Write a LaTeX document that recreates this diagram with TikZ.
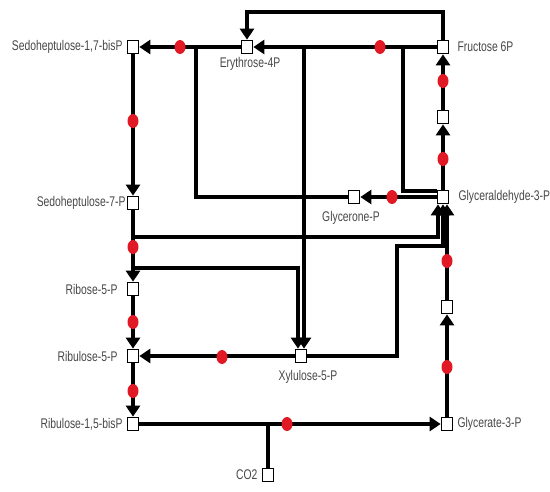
\documentclass[tikz,border=0pt]{standalone}
\usepackage{fontspec}
\setmainfont{Liberation Sans}[FakeStretch=0.74]
\usepackage{tikz}
\usetikzlibrary{arrows.meta,positioning}
\definecolor{dotred}{rgb}{0.88,0.1,0.14}
\definecolor{labgray}{rgb}{0.28,0.28,0.28}

\begin{document}
\begin{tikzpicture}[x=1pt,y=-1pt,
  met/.style={draw,fill=white,line width=1.7pt,minimum width=11pt,minimum height=13pt,inner sep=0pt},
  lab/.style={font=\fontsize{14}{15}\selectfont,text=labgray,inner sep=1pt},
  rxn/.style={line width=\medline},
  rarr/.style={line width=\medline,-{Triangle[width=14pt,length=11pt]}}]

\useasboundingbox (0,0) rectangle (550,491);

\def\medline{3.6pt}
\def\dotw{5.5}
\def\doth{7}

% metabolites
\node[met] (s17) at (133,47) {};
\node[met] (e4p) at (247,47) {};
\node[met] (f6p) at (443,47) {};
\node[met] (fbp) at (443,117) {};
\node[met] (gap) at (443,197) {};
\node[met] (dhap) at (354,197) {};
\node[met] (s7p) at (133,203) {};
\node[met] (r5p) at (133,289) {};
\node[met] (ru5p) at (133,356) {};
\node[met] (x5p) at (301,356) {};
\node[met] (rubp) at (133,424) {};
\node[met] (g3p) at (447,424) {};
\node[met] (bpg) at (447,307) {};
\node[met] (co2) at (268,475) {};

\node[lab,left=3pt of s17] (s17l) {Sedoheptulose-1,7-bisP};
\node[lab,below=2pt of e4p,xshift=3pt] (e4pl) {Erythrose-4P};
\node[lab,right=7pt of f6p] (f6pl) {Fructose 6P};
\node[lab,right=8pt of gap] (gapl) {Glyceraldehyde-3-P};
\node[lab,below=6pt of dhap,xshift=-3pt] (dhapl) {Glycerone-P};
\node[lab,left=0pt of s7p] (s7pl) {Sedoheptulose-7-P};
\node[lab,left=8pt of r5p] (r5pl) {Ribose-5-P};
\node[lab,left=8pt of ru5p] (ru5pl) {Ribulose-5-P};
\node[lab,below=6pt of x5p,xshift=7pt] (x5pl) {Xylulose-5-P};
\node[lab,left=3pt of rubp] (rubpl) {Ribulose-1,5-bisP};
\node[lab,right=3pt of g3p] (g3pl) {Glycerate-3-P};
\node[lab,left=3pt of co2] (co2l) {CO2};

% branch points
\coordinate (top) at (345,12);
\coordinate (j1) at (196,47);
\coordinate (j2) at (304,47);
\coordinate (j3) at (403,47);
\coordinate (j4) at (133,237);
\coordinate (j5) at (133,268);
\coordinate (j6) at (397,246);
\coordinate (j7) at (268,424);

% reactions
\draw[rarr] (f6p.north) |- (top) -| (e4p.north);
\draw[rarr] (f6p) -- (e4p);
\draw[rarr] (e4p) -- (s17);
\draw[rxn] (j1) |- (dhap);
\draw[rarr] (j2) -- ([xshift=3pt]x5p.north);
\draw[rxn] (j3) |- ([yshift=6pt]gap.west);
\draw[rarr] (gap) -- (dhap);
\draw[rarr] (s17) -- (s7p);
\draw[rarr] (s7p) -- (r5p);
\draw[rarr] (j4) -| ([xshift=-5pt]gap.south);
\draw[rarr] (j5) -| ([xshift=-3pt]x5p.north);
\draw[rarr] (r5p) -- (ru5p);
\draw[rarr] (ru5p) -- (rubp);
\draw[rarr] (x5p) -- (ru5p);
\draw[rarr] (x5p) -| (j6) -| (gap.south);
\draw[rarr] (rubp) -- (g3p);
\draw[rxn] (co2) -- (j7);
\draw[rarr] (g3p) -- (bpg);
\draw[rarr] (bpg) -- (bpg |- gap.south);
\draw[rarr] (gap) -- (fbp);
\draw[rarr] (fbp) -- (f6p);

% enzymes
\foreach \x/\y in {380/47,180/47,133/121,133/247,133/322,133/391,222/357,392/197,287/424,447/367,447/261,443/159,443/81}
{
\fill[dotred] (\x,\y) ellipse [x radius=\dotw, y radius=\doth];
}

\end{tikzpicture}
\end{document}
